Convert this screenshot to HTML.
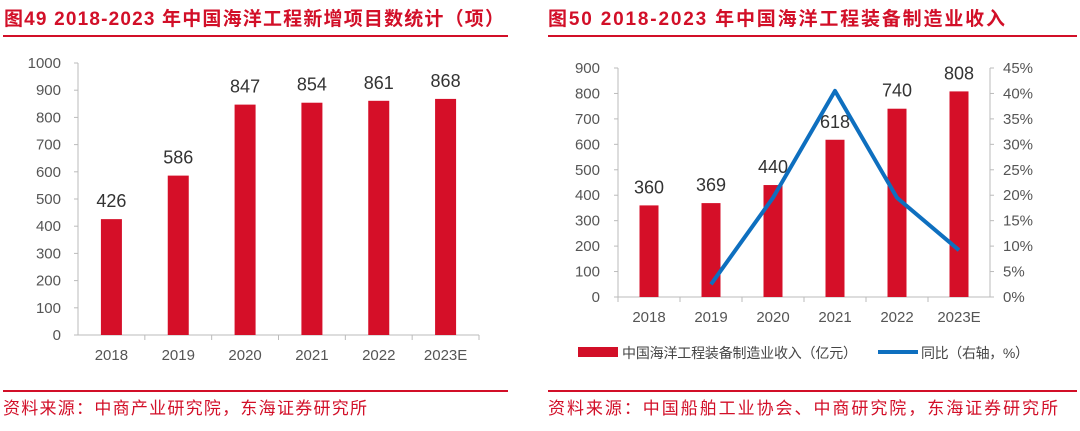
<!DOCTYPE html>
<html><head><meta charset="utf-8"><style>
body{margin:0;width:1080px;height:426px;background:#fff;overflow:hidden;font-family:"Liberation Sans","Noto Sans CJK SC",sans-serif}
svg text{font-family:"Liberation Sans","Noto Sans CJK SC",sans-serif}
</style></head><body>
<svg width="1080" height="426">
<g>
<text x="4" y="25" font-size="19" font-weight="bold" fill="#d20f28" textLength="500" lengthAdjust="spacing">图49  2018-2023 年中国海洋工程新增项目数统计（项）</text>
<rect x="3" y="35" width="505" height="2" fill="#d20f28"/>
<g id="lc"></g>
<rect x="3" y="390" width="505" height="2" fill="#d20f28"/>
<text x="3" y="414" font-size="17" fill="#d20f28" textLength="364" lengthAdjust="spacing">资料来源：中商产业研究院，东海证券研究所</text>
</g>
<g>
<text x="548" y="25" font-size="19" font-weight="bold" fill="#d20f28" textLength="457" lengthAdjust="spacing">图50  2018-2023 年中国海洋工程装备制造业收入</text>
<rect x="548" y="35" width="529" height="2" fill="#d20f28"/>
<g id="rc"></g>
<rect x="578" y="347" width="40" height="10" fill="#d20f28"/>
<text x="622" y="358" font-size="14" fill="#444" textLength="235" lengthAdjust="spacing">中国海洋工程装备制造业收入（亿元）</text>
<rect x="878" y="350" width="40" height="4" fill="#0e6fbf"/>
<text x="921" y="358" font-size="14" fill="#444" textLength="108" lengthAdjust="spacing">同比（右轴，%）</text>
<rect x="548" y="390" width="529" height="2" fill="#d20f28"/>
<text x="548" y="414" font-size="17" fill="#d20f28" textLength="510" lengthAdjust="spacing">资料来源：中国船舶工业协会、中商研究院，东海证券研究所</text>
</g>
</svg>
<script>
const cats=["2018","2019","2020","2021","2022","2023E"];
const projects=[426,586,847,854,861,868];
const leftTicks=[0,100,200,300,400,500,600,700,800,900,1000];
const revenue=[360,369,440,618,740,808];
const growth=[null,2.5,19.5,40.5,19.5,9.2];
const revTicks=[0,100,200,300,400,500,600,700,800,900];
const pctTicks=[0,5,10,15,20,25,30,35,40,45];
const NS="http://www.w3.org/2000/svg";
function mk(p,t,a){const e=document.createElementNS(NS,t);for(const k in a)e.setAttribute(k,a[k]);p.appendChild(e);return e;}
(function(){
const g=document.getElementById('lc');
const x0=78,x1=479,y0=335,yT=63,max=1000;
const bw=(x1-x0)/cats.length;
const y=v=>y0-(v/max)*(y0-yT);
let e=mk(g,'line',{x1:x0,y1:yT,x2:x0,y2:y0,stroke:'#bbb'});

e=mk(g,'line',{x1:x0,y1:y0,x2:x1,y2:y0,stroke:'#bbb'});

leftTicks.forEach(t=>{
 mk(g,'line',{x1:x0-4,y1:y(t),x2:x0,y2:y(t),stroke:'#bbb'});
 e=mk(g,'text',{x:61,y:y(t)+5,'font-size':15,fill:'#555','text-anchor':'end'});e.textContent=t;
 
});
cats.forEach((c,i)=>{
 const cx=x0+bw*(i+0.5);
 mk(g,'line',{x1:x0+bw*(i+1),y1:y0,x2:x0+bw*(i+1),y2:y0+5,stroke:'#bbb'});
 e=mk(g,'rect',{x:cx-10.5,y:y(projects[i]),width:21,height:y0-y(projects[i]),fill:'#d50f28'});
 
 e=mk(g,'text',{x:cx,y:y(projects[i])-12,'font-size':18,fill:'#333','text-anchor':'middle'});e.textContent=projects[i];
 
 e=mk(g,'text',{x:cx,y:y0+25,'font-size':15,fill:'#555','text-anchor':'middle'});e.textContent=c;
 
});
})();
(function(){
const g=document.getElementById('rc');
const x0=618,x1=990,y0=297,yT=68;
const bw=(x1-x0)/cats.length;
const y=v=>y0-(v/900)*(y0-yT);
const yp=v=>y0-(v/45)*(y0-yT);
let e=mk(g,'line',{x1:x0,y1:yT,x2:x0,y2:y0,stroke:'#bbb'});

e=mk(g,'line',{x1:x1,y1:yT,x2:x1,y2:y0,stroke:'#bbb'});

e=mk(g,'line',{x1:x0,y1:y0,x2:x1,y2:y0,stroke:'#bbb'});

revTicks.forEach(t=>{
 mk(g,'line',{x1:x0-4,y1:y(t),x2:x0,y2:y(t),stroke:'#bbb'});
 e=mk(g,'text',{x:600,y:y(t)+5,'font-size':15,fill:'#555','text-anchor':'end'});e.textContent=t;
 
});
pctTicks.forEach(t=>{
 mk(g,'line',{x1:x1,y1:yp(t),x2:x1+4,y2:yp(t),stroke:'#bbb'});
 e=mk(g,'text',{x:1003,y:yp(t)+5,'font-size':15,fill:'#555'});e.textContent=t+'%';
 
});
cats.forEach((c,i)=>{
 const cx=x0+bw*(i+0.5);
 mk(g,'line',{x1:x0+bw*i,y1:y0,x2:x0+bw*i,y2:y0+5,stroke:'#bbb'});
 e=mk(g,'rect',{x:cx-9.5,y:y(revenue[i]),width:19,height:y0-y(revenue[i]),fill:'#d50f28'});
 
 e=mk(g,'text',{x:cx,y:y(revenue[i])-12,'font-size':18,fill:'#333','text-anchor':'middle'});e.textContent=revenue[i];
 
 e=mk(g,'text',{x:cx,y:y0+25,'font-size':15,fill:'#555','text-anchor':'middle'});e.textContent=c;
 
});
const pts=[];growth.forEach((v,i)=>{if(v!==null)pts.push((x0+bw*(i+0.5))+','+yp(v));});
e=mk(g,'polyline',{points:pts.join(' '),fill:'none',stroke:'#0e6fbf','stroke-width':4,'stroke-linejoin':'round'});

})();
</script>
</body></html>
